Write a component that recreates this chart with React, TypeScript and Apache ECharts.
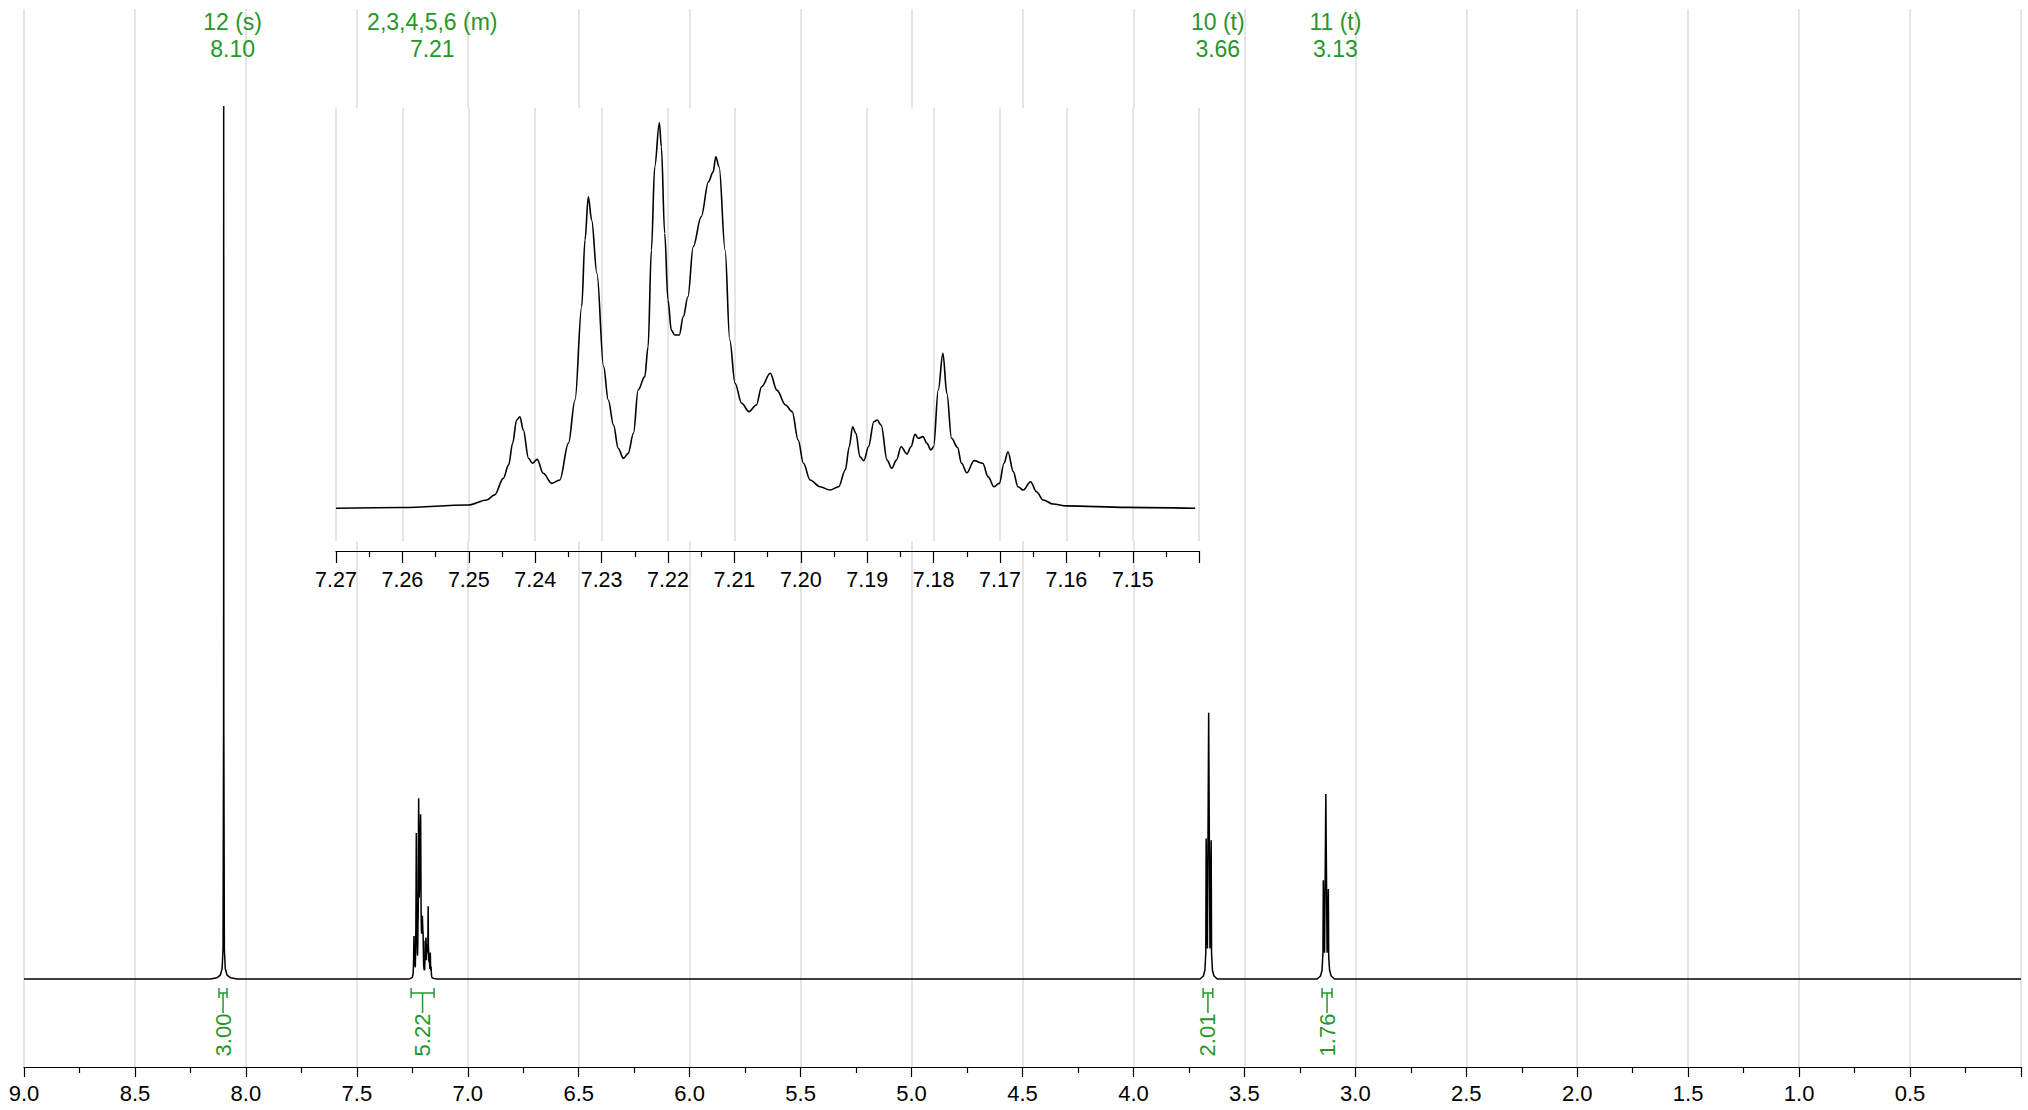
import React, { useEffect, useRef } from 'react';
import * as echarts from 'echarts';

// ---- Data (ppm, intensity in % of the 8.10 singlet) ----
const singlet810: number[][] = [
  [8.16, 0], [8.13, 0.15], [8.115, 0.45], [8.107, 1.2], [8.103, 3.5], [8.1005, 30],
  [8.1, 100], [8.0995, 30], [8.097, 3.5], [8.093, 1.2], [8.085, 0.45], [8.07, 0.15], [8.04, 0],
];

const multiplet721: number[][] = [
  [7.27, 0], [7.26, 0.04], [7.2501, 0.18], [7.2473, 0.45], [7.2461, 0.72], [7.2448, 1.61],
  [7.244, 2.33], [7.2434, 3.49], [7.2428, 4.74], [7.2423, 4.92], [7.2418, 4.21], [7.241, 2.68],
  [7.2404, 2.42], [7.2397, 2.63], [7.2388, 1.88], [7.2375, 1.34], [7.2363, 1.52], [7.235, 3.49],
  [7.234, 5.82], [7.233, 10.83], [7.2325, 14.41], [7.232, 16.73], [7.2315, 15.48], [7.2307, 12.62],
  [7.2297, 7.61], [7.229, 5.82], [7.2282, 4.47], [7.2275, 3.22], [7.2267, 2.68], [7.226, 2.95],
  [7.2252, 4.03], [7.2245, 6.35], [7.2235, 7.07], [7.223, 8.68], [7.2225, 13.87], [7.222, 18.34],
  [7.2213, 20.71], [7.221, 19.42], [7.2205, 14.77], [7.22, 11.18], [7.2195, 9.57], [7.219, 9.31],
  [7.2183, 9.31], [7.2177, 10.29], [7.217, 11.36], [7.2162, 14.05], [7.215, 15.66], [7.2139, 17.54],
  [7.2132, 18.07], [7.2128, 18.88], [7.2123, 18.34], [7.2114, 13.87], [7.2107, 9.04], [7.2099, 6.71],
  [7.2089, 5.64], [7.2078, 5.19], [7.2067, 5.55], [7.2059, 6.53], [7.2046, 7.25], [7.2036, 6.35],
  [7.2023, 5.55], [7.2013, 5.19], [7.2004, 3.67], [7.1996, 2.42], [7.1986, 1.52], [7.1971, 1.16],
  [7.1956, 0.98], [7.1943, 1.16], [7.1933, 2.06], [7.1927, 3.31], [7.1922, 4.38], [7.1917, 4.03],
  [7.1911, 2.77], [7.1905, 2.56], [7.1898, 3.31], [7.189, 4.65], [7.1885, 4.74], [7.1879, 4.47],
  [7.187, 2.59], [7.1863, 2.15], [7.1856, 2.59], [7.1849, 3.31], [7.184, 2.92], [7.1834, 3.31],
  [7.1828, 3.97], [7.1823, 3.76], [7.1816, 3.85], [7.181, 3.49], [7.1804, 3.13], [7.18, 3.31],
  [7.1793, 6.35], [7.1786, 8.32], [7.178, 6.17], [7.1773, 3.76], [7.1764, 3.27], [7.1758, 2.42],
  [7.175, 1.91], [7.1739, 2.56], [7.1726, 2.42], [7.1718, 1.7], [7.1709, 1.16], [7.1701, 1.34],
  [7.1694, 2.42], [7.1688, 3.04], [7.168, 1.97], [7.1673, 1.16], [7.1665, 0.98], [7.1654, 1.43],
  [7.1645, 0.89], [7.1635, 0.45], [7.162, 0.23], [7.16, 0.13], [7.151, 0.05], [7.1406, 0],
];

const triplet366: number[][] = [
  [3.7, 0], [3.685, 0.35], [3.678, 1.0], [3.674, 3.0], [3.6723, 16.1], [3.6667, 3.5],
  [3.661, 30.5], [3.6553, 3.5], [3.6497, 15.9], [3.648, 3.0], [3.644, 1.0], [3.637, 0.35], [3.622, 0],
];

const triplet313: number[][] = [
  [3.172, 0], [3.157, 0.35], [3.15, 1.0], [3.146, 3.0], [3.1443, 11.3], [3.1387, 3.0],
  [3.133, 21.2], [3.1273, 3.0], [3.1217, 10.3], [3.12, 2.5], [3.116, 1.0], [3.109, 0.35], [3.094, 0],
];

const assignNames = ['12 (s)', '2,3,4,5,6 (m)', '10 (t)', '11 (t)'];
const assignShifts = ['8.10', '7.21', '3.66', '3.13'];
const assignLabelPos = [8.06, 7.16, 3.62, 3.09];

const integralFrom = [8.121, 7.2555, 3.686, 3.15];
const integralTo = [8.085, 7.152, 3.6425, 3.105];
const integralValues = ['3.00', '5.22', '2.01', '1.76'];

const GREEN = '#26962a';
const FONT = '"Liberation Sans", Arial, sans-serif';

export default function App() {
  const ref = useRef<HTMLDivElement>(null);

  useEffect(() => {
    document.body.style.margin = '0';
    if (!ref.current) return;
    const chart = echarts.init(ref.current, undefined, { renderer: 'svg' });

    const mainSpectrum = [[9.0, 0], ...singlet810, ...multiplet721, ...triplet366, ...triplet313, [0, 0]];

    const option: any = {
      animation: false,
      backgroundColor: '#fff',
      grid: [
        { left: 24, right: 7, top: 9, bottom: 43, show: false },
        {
          left: 336, width: 863.2, top: 108, height: 433, show: true,
          backgroundColor: '#fff', borderWidth: 0, z: 1,
        },
      ],
      xAxis: [
        {
          type: 'value', gridIndex: 0, min: 0, max: 9, interval: 0.5, inverse: true, z: 0,
          axisLine: { show: true, onZero: false, lineStyle: { color: '#000', width: 1.2 } },
          axisTick: { show: true, length: 10, lineStyle: { color: '#000', width: 1.2 } },
          minorTick: { show: true, splitNumber: 2, length: 6, lineStyle: { color: '#000', width: 1.2 } },
          axisLabel: {
            color: '#000', fontSize: 22, fontFamily: FONT, margin: 15,
            formatter: (v: number) => (Math.abs(v) < 1e-6 ? '' : v.toFixed(1)),
          },
          splitLine: { show: true, lineStyle: { color: '#dcdcdc', width: 1.5 } },
        },
        {
          type: 'value', gridIndex: 1, min: 7.14, max: 7.27, interval: 0.01, inverse: true, z: 3,
          offset: 10,
          axisLine: { show: true, onZero: false, lineStyle: { color: '#000', width: 1.2 } },
          axisTick: { show: true, length: 12, lineStyle: { color: '#000', width: 1.2 } },
          minorTick: { show: true, splitNumber: 2, length: 6, lineStyle: { color: '#000', width: 1.2 } },
          axisLabel: {
            color: '#000', fontSize: 21.5, fontFamily: FONT, margin: 18,
            formatter: (v: number) => (Math.abs(v - 7.14) < 1e-6 ? '' : v.toFixed(2)),
          },
          splitLine: { show: true, lineStyle: { color: '#dcdcdc', width: 1.5 } },
        },
      ],
      yAxis: [
        { type: 'value', gridIndex: 0, min: -10.08, max: 111.1, show: false },
        { type: 'value', gridIndex: 1, min: -1.756, max: 21.5, show: false },
      ],
      series: [
        {
          type: 'line', xAxisIndex: 0, yAxisIndex: 0, data: mainSpectrum, showSymbol: false,
          symbol: 'none', lineStyle: { color: '#000', width: 1.5 }, z: 2, silent: true,
        },
        {
          type: 'line', xAxisIndex: 1, yAxisIndex: 1, data: multiplet721, showSymbol: false,
          symbol: 'none', smooth: 0.35, smoothMonotone: 'x',
          lineStyle: { color: '#000', width: 1.6 }, z: 5, silent: true,
        },
        {
          type: 'custom', xAxisIndex: 0, yAxisIndex: 0, z: 6, silent: true,
          data: assignLabelPos.map((p, i) => [p, i]),
          renderItem: (params: any, api: any) => {
            const i = params.dataIndex;
            const x = api.coord([api.value(0), 0])[0];
            const mk = (text: string, y: number) => ({
              type: 'text', x, y,
              style: {
                text, fill: GREEN, font: `23px ${FONT}`, fontSize: 23, fontFamily: FONT,
                align: 'center', verticalAlign: 'middle', textAlign: 'center', textVerticalAlign: 'middle',
              },
            });
            return { type: 'group', children: [mk(assignNames[i], 22), mk(assignShifts[i], 49)] };
          },
        },
        {
          type: 'custom', xAxisIndex: 0, yAxisIndex: 0, z: 6, silent: true,
          data: integralFrom.map((f, i) => [f, integralTo[i], i]),
          renderItem: (params: any, api: any) => {
            const i = params.dataIndex;
            const p1 = api.coord([api.value(0), 0]);
            const p2 = api.coord([api.value(1), 0]);
            const barY = p1[1] + 14;
            const cx = (p1[0] + p2[0]) / 2;
            const ls = { stroke: GREEN, lineWidth: 1.5 };
            return {
              type: 'group',
              children: [
                { type: 'line', shape: { x1: p1[0], y1: barY, x2: p2[0], y2: barY }, style: ls },
                { type: 'line', shape: { x1: p1[0], y1: barY - 5, x2: p1[0], y2: barY + 5 }, style: ls },
                { type: 'line', shape: { x1: p2[0], y1: barY - 5, x2: p2[0], y2: barY + 5 }, style: ls },
                { type: 'line', shape: { x1: cx, y1: barY, x2: cx, y2: barY + 20 }, style: ls },
                {
                  type: 'text', x: cx, y: barY + 42, rotation: Math.PI / 2,
                  style: {
                    text: integralValues[i], fill: GREEN, font: `22px ${FONT}`, fontSize: 22, fontFamily: FONT,
                    align: 'center', verticalAlign: 'middle', textAlign: 'center', textVerticalAlign: 'middle',
                  },
                },
              ],
            };
          },
        },
      ],
    };

    chart.setOption(option);
    return () => chart.dispose();
  }, []);

  return (
    <div
      ref={ref}
      style={{ position: 'absolute', left: 0, top: 0, width: 2028, height: 1110, background: '#fff' }}
    />
  );
}
